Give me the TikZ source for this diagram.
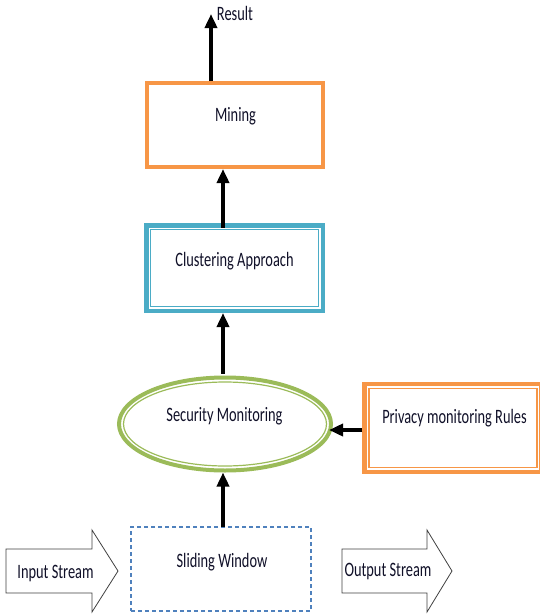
\documentclass[tikz,border=0pt]{standalone}
\usepackage{fontspec}
\setmainfont{Carlito}
\usetikzlibrary{arrows.meta,shapes.geometric}
\definecolor{orangeC}{HTML}{F79646}
\definecolor{blueC}{HTML}{4BACC6}
\definecolor{greenC}{HTML}{9BBB59}
\definecolor{dashC}{HTML}{4F81BD}
\definecolor{txtC}{HTML}{101028}
\newcommand{\stx}[1]{\scalebox{1}[1.42]{#1}}
\begin{document}
\begin{tikzpicture}[x=1pt,y=-1pt,
  lbl/.style={font=\fontsize{14.4}{16}\selectfont, inner sep=0pt, anchor=base, text=txtC},
  boxbase/.style={rectangle, inner sep=0pt, outer sep=0pt},
  arr/.style={line width=4pt, -{Triangle[width=12pt,length=14pt]}},
  inner/.style={line width=1.2pt},
  streamarrow/.style={draw=black!75, line width=0.8pt, fill=white, line join=miter}]
\useasboundingbox (0,0) rectangle (540,614);

% boxes (anchors on the line centre)
\node[boxbase, draw=orangeC, line width=4pt, minimum width=176pt, minimum height=84pt] (mining) at (235,125) {};
\node[boxbase, draw=blueC, line width=4.5pt, minimum width=176.5pt, minimum height=85.5pt] (clu) at (234.5,268) {};
\draw[inner, draw=blueC] ([xshift=4.5pt,yshift=-4.5pt]clu.north west) rectangle ([xshift=-4.5pt,yshift=4.5pt]clu.south east);
\node[ellipse, inner sep=0pt, draw=greenC, line width=4pt, minimum width=212pt, minimum height=93pt] (ell) at (225,424) {};
\draw[inner, draw=greenC] (ell.center) ellipse [x radius=101.5pt, y radius=42pt];
\node[boxbase, draw=orangeC, line width=4.5pt, minimum width=177pt, minimum height=87.75pt] (priv) at (453,427.9) {};
\draw[inner, draw=orangeC] ([xshift=4.5pt,yshift=-4.5pt]priv.north west) rectangle ([xshift=-4.5pt,yshift=4.5pt]priv.south east);
\node[boxbase, draw=dashC, line width=1.2pt, dash pattern=on 4pt off 3pt, minimum width=180pt, minimum height=84pt] (sw) at (221,569) {};

% stream arrows
\draw[streamarrow] (6,549) -- (92,549) -- (92,530) -- (118,571) -- (92,612) -- (92,593) -- (6,593) -- cycle;
\draw[streamarrow] (342,549) -- (427,549) -- (427,530) -- (452,571) -- (427,612) -- (427,593) -- (342,593) -- cycle;

% labels
\node[lbl] (tres) at (235,20) {\stx{Result}};
\node[lbl] (tmin) at (235.5,121.5) {\stx{Mining}};
\node[lbl] (tclu) at (234.5,266.5) {\stx{Clustering Approach}};
\node[lbl] (tsec) at (224.5,421.5) {\stx{Security Monitoring}};
\node[lbl] (tpriv) at (454.5,423) {\stx{Privacy monitoring Rules}};
\node[lbl] (tsw) at (222,567) {\stx{Sliding Window}};
\node[lbl] (tin) at (55.5,578) {\stx{Input Stream}};
\node[lbl] (tout) at (388,576) {\stx{Output Stream}};

% connectors
\coordinate (res) at (211,14);
\coordinate (ax) at (223,0);
\coordinate (ay) at (0,430);
\draw[arr] ([yshift=2pt]mining.north -| res) -- (res);
\draw[arr] ([yshift=-2.25pt]clu.north -| ax) -- ([yshift=-2pt]mining.south -| ax);
\draw[arr] ([yshift=2pt]ell.north -| ax) -- ([yshift=-2.25pt]clu.south -| ax);
\draw[arr] (sw.north -| ax) -- (ell.south -| ax);
\draw[arr] ([xshift=-2.25pt]priv.west |- ay) -- ([xshift=-4pt]ell.east |- ay);
\end{tikzpicture}
\end{document}
